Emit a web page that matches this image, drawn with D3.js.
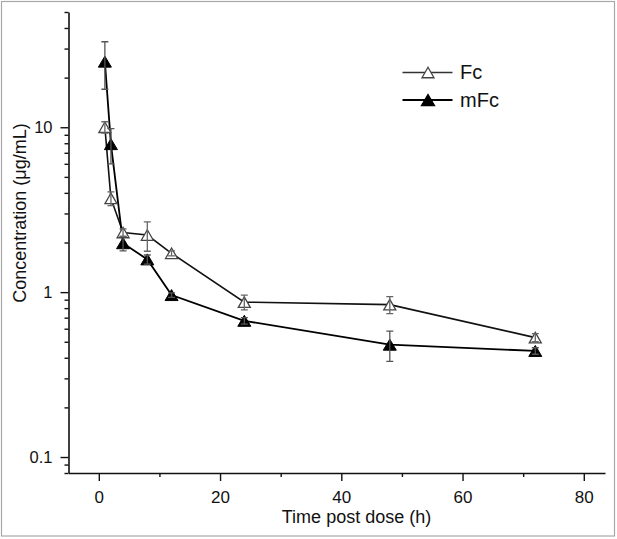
<!DOCTYPE html>
<html>
<head>
<meta charset="utf-8">
<script src="https://cdn.jsdelivr.net/npm/d3@7"></script>
<style>
  html, body { margin: 0; padding: 0; background: #fff; }
  svg { display: block; }
  text { font-family: "Liberation Sans", Arial, Helvetica, sans-serif; fill: #111; }
</style>
</head>
<body>
<svg id="chart" width="617" height="539"></svg>
<script>
// ---- data ----
const times = [1, 2, 4, 8, 12, 24, 48, 72];
const fcMean  = [10.0, 3.7, 2.3, 2.22, 1.72, 0.87, 0.84, 0.53];
const fcErr   = [0.8, 0.35, 0.12, 0.45, 0.06, 0.09, 0.10, 0.03];
const mfcMean = [25.0, 7.9, 1.98, 1.58, 0.96, 0.67, 0.48, 0.44];
const mfcErr  = [8.0, 1.9, 0.20, 0.10, 0.03, 0.03, 0.10, 0.02];
const seriesNames = ["Fc", "mFc"];
const xTickValues = [0, 20, 40, 60, 80];
const xMinorTickValues = [10, 30, 50, 70];
const yTickValues = [0.1, 1, 10];
const yTickLabels = ["0.1", "1", "10"];
const yMinorTickValues = [0.08, 0.09, 0.2, 0.3, 0.4, 0.5, 0.6, 0.7, 0.8, 0.9,
                          2, 3, 4, 5, 6, 7, 8, 9, 20, 30, 40, 50];
const xTitle = "Time post dose (h)";
const yTitle = "Concentration (\u03bcg/mL)";

// ---- layout ----
const svg = d3.select("#chart");
const L = 68.5, R = 605, T = 12, B = 473;

// outer frame
svg.append("rect").attr("x", 1.5).attr("y", 1.5).attr("width", 613).attr("height", 534.5)
  .attr("fill", "none").attr("stroke", "#a8a8a8").attr("stroke-width", 1.2);

const x = d3.scaleLinear().domain([-5, 83.5]).range([L, R]);
const y = d3.scaleLog().domain([0.08, 50]).range([B, T]);

// ---- axes ----
const xAxis = svg.append("g").attr("transform", `translate(0,${B})`)
  .call(d3.axisBottom(x).tickValues(xTickValues).tickFormat(d3.format("d"))
    .tickSize(8).tickPadding(10).tickSizeOuter(0));
svg.append("g").attr("transform", `translate(0,${B})`)
  .call(d3.axisBottom(x).tickValues(xMinorTickValues).tickFormat("").tickSize(4).tickSizeOuter(0))
  .select(".domain").remove();

const yAxis = svg.append("g").attr("transform", `translate(${L},0)`)
  .call(d3.axisLeft(y).tickValues(yTickValues).tickFormat((d, i) => yTickLabels[i])
    .tickSize(8).tickPadding(8).tickSizeOuter(0));
svg.append("g").attr("transform", `translate(${L},0)`)
  .call(d3.axisLeft(y).tickValues(yMinorTickValues).tickFormat("").tickSize(4).tickSizeOuter(0))
  .select(".domain").remove();

svg.selectAll(".domain").attr("stroke", "#111").attr("stroke-width", 1.6);
svg.selectAll(".tick line").attr("stroke", "#111").attr("stroke-width", 1.4);
xAxis.selectAll("text").attr("font-size", 17).attr("fill", "#111")
  .style("font-family", '"Liberation Sans", Arial, sans-serif');
yAxis.selectAll("text").attr("font-size", 16.5).attr("fill", "#111")
  .style("font-family", '"Liberation Sans", Arial, sans-serif');

// axis titles
svg.append("text").attr("x", 356.5).attr("y", 523).attr("text-anchor", "middle")
  .attr("font-size", 18).text(xTitle);
svg.append("text").attr("transform", "translate(25.5,213) rotate(-90)")
  .attr("text-anchor", "middle").attr("font-size", 18).text(yTitle);

// ---- data marks ----
const fcData = times.map((t, i) => ({ t, v: fcMean[i], e: fcErr[i] }));
const mfcData = times.map((t, i) => ({ t, v: mfcMean[i], e: mfcErr[i] }));

const line = d3.line().x(d => x(d.t)).y(d => y(d.v));
svg.append("path").datum(fcData).attr("d", line)
  .attr("fill", "none").attr("stroke", "#111").attr("stroke-width", 1.6);
svg.append("path").datum(mfcData).attr("d", line)
  .attr("fill", "none").attr("stroke", "#000").attr("stroke-width", 1.8);

function triPath(cx, cy, w, h) {
  return `M${cx},${cy - h / 2}L${cx + w / 2},${cy + h / 2}L${cx - w / 2},${cy + h / 2}Z`;
}

// markers
svg.append("g").selectAll("path").data(fcData).join("path")
  .attr("d", d => triPath(x(d.t), y(d.v), 12, 10.5))
  .attr("fill", "#fff").attr("stroke", "#444").attr("stroke-width", 1.3);
svg.append("g").selectAll("path").data(mfcData).join("path")
  .attr("d", d => triPath(x(d.t), y(d.v), 13, 11))
  .attr("fill", "#000").attr("stroke", "#000").attr("stroke-width", 1);

// error bars (drawn on top, as in the reference)
function errorBars(data, color) {
  const g = svg.append("g").attr("stroke", color).attr("stroke-width", 1.3).attr("fill", "none");
  g.selectAll("path").data(data).join("path")
    .attr("d", d => {
      const cx = x(d.t), y1 = y(d.v + d.e), y0 = y(d.v - d.e), c = 3.5;
      return `M${cx},${y1}V${y0}M${cx - c},${y1}H${cx + c}M${cx - c},${y0}H${cx + c}`;
    });
}
errorBars(mfcData, "#555");
errorBars(fcData, "#666");

// ---- legend ----
const legend = svg.append("g");
const legendRows = [
  { name: seriesNames[0], y: 72.5, filled: false },
  { name: seriesNames[1], y: 100, filled: true }
];
legendRows.forEach(r => {
  legend.append("line").attr("x1", 402.5).attr("x2", 452.5).attr("y1", r.y).attr("y2", r.y)
    .attr("stroke", r.filled ? "#000" : "#333").attr("stroke-width", r.filled ? 1.8 : 1.5);
  legend.append("path").attr("d", triPath(428, r.y, r.filled ? 13 : 12, r.filled ? 11 : 10.5))
    .attr("fill", r.filled ? "#000" : "#fff").attr("stroke", r.filled ? "#000" : "#444")
    .attr("stroke-width", 1.3);
  legend.append("text").attr("x", 460).attr("y", r.y + 6.5).attr("font-size", 20).text(r.name);
});
</script>
</body>
</html>
